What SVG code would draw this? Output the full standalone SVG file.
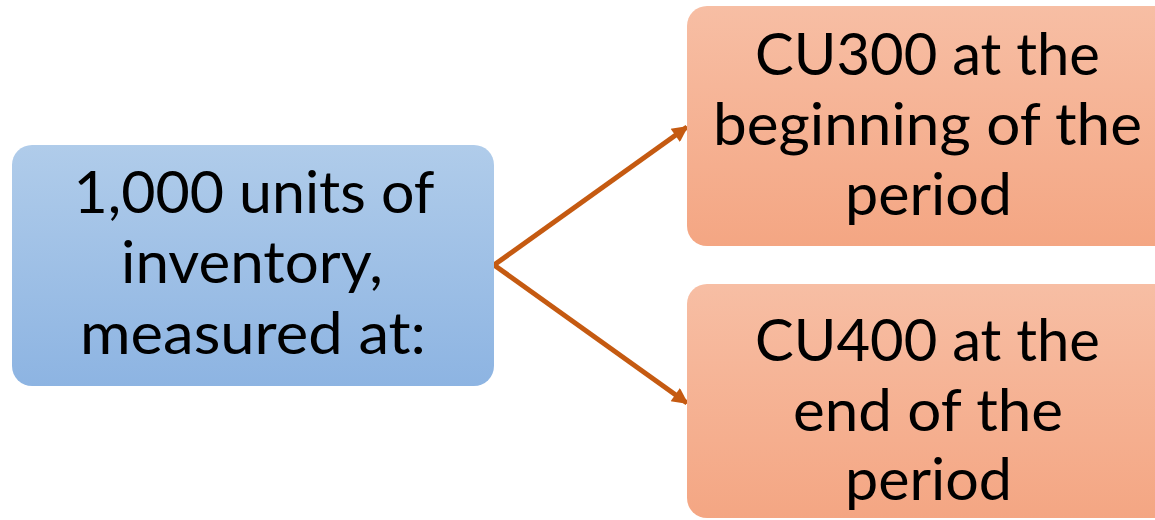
<svg xmlns="http://www.w3.org/2000/svg" width="1155" height="520" viewBox="0 0 1155 520">
  <style>
    .lbl { font-family: Lato, "Open Sans", "Liberation Sans", sans-serif; font-size: 59px; fill: #000; text-anchor: middle; }
    .edge { stroke: #C55A11; stroke-width: 5; fill: none; marker-end: url(#head); }
  </style>
  <defs>
    <linearGradient id="blueFill" x1="0" y1="0" x2="0" y2="1">
      <stop offset="0" stop-color="#B0CCEA"/>
      <stop offset="1" stop-color="#8DB4E2"/>
    </linearGradient>
    <linearGradient id="orangeFill" x1="0" y1="0" x2="0" y2="1">
      <stop offset="0" stop-color="#F7BEA4"/>
      <stop offset="1" stop-color="#F4A683"/>
    </linearGradient>
    <marker id="head" viewBox="0 0 10 10" refX="9" refY="5" markerWidth="18" markerHeight="16" markerUnits="userSpaceOnUse" orient="auto">
      <path d="M0,0 L10,5 L0,10 Z" fill="#C55A11"/>
    </marker>
  </defs>

  <g id="connectors">
    <line class="edge" x1="494" y1="265" x2="687" y2="127"/>
    <line class="edge" x1="494" y1="265" x2="687" y2="403"/>
  </g>

  <g id="inventory">
    <rect x="12" y="145" width="482" height="241" rx="20" fill="url(#blueFill)"/>
    <text class="lbl" x="254" y="213" textLength="361" lengthAdjust="spacingAndGlyphs">1,000 units of</text>
    <text class="lbl" x="252" y="283" textLength="262" lengthAdjust="spacingAndGlyphs">inventory,</text>
    <text class="lbl" x="253" y="354" textLength="346" lengthAdjust="spacingAndGlyphs">measured at:</text>
  </g>

  <g id="beginning">
    <rect x="687" y="6" width="490" height="240" rx="20" fill="url(#orangeFill)"/>
    <text class="lbl" x="927.5" y="75" textLength="345" lengthAdjust="spacingAndGlyphs">CU300 at the</text>
    <text class="lbl" x="927.5" y="145" textLength="429" lengthAdjust="spacingAndGlyphs">beginning of the</text>
    <text class="lbl" x="928.5" y="215" textLength="167" lengthAdjust="spacingAndGlyphs">period</text>
  </g>

  <g id="end">
    <rect x="687" y="284" width="490" height="234" rx="20" fill="url(#orangeFill)"/>
    <text class="lbl" x="927.5" y="361" textLength="345" lengthAdjust="spacingAndGlyphs">CU400 at the</text>
    <text class="lbl" x="928" y="431" textLength="270" lengthAdjust="spacingAndGlyphs">end of the</text>
    <text class="lbl" x="928.5" y="500" textLength="167" lengthAdjust="spacingAndGlyphs">period</text>
  </g>
</svg>
